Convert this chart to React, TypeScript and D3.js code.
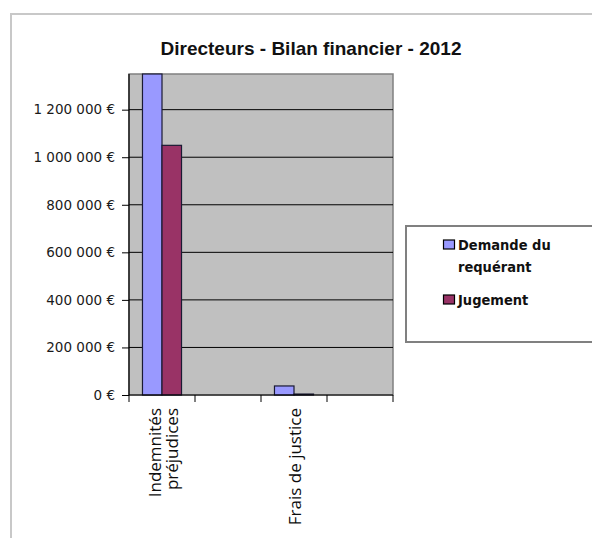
import React, { useEffect, useRef } from "react";
import * as d3 from "d3";

// Chart content
const title = "Directeurs - Bilan financier - 2012";
const categories = ["Indemnités préjudices", "", "Frais de justice", ""];
const categoryLines = [["Indemnités", "préjudices"], [], ["Frais de justice"], []];
const seriesNames = ["Demande du requérant", "Jugement"];
const legendLines = [["Demande du", "requérant"], ["Jugement"]];
const demande = [1500000, null, 38000, null];
const jugement = [1050000, null, 4000, null];
const yTicks = [0, 200000, 400000, 600000, 800000, 1000000, 1200000];
const yMax = 1350000;

const seriesValues = [demande, jugement];
const seriesColors = ["#9999FF", "#993366"];

const W = 592;
const H = 538;
const plot = { left: 129, right: 393, top: 74, bottom: 395 };

const euro = d3.formatLocale({
  decimal: ",",
  thousands: " ",
  grouping: [3],
  currency: ["", " €"],
}).format("$,.0f");

export default function App() {
  const yAxisRef = useRef<SVGGElement>(null);
  const xAxisRef = useRef<SVGGElement>(null);

  const x = d3.scaleBand<number>()
    .domain(d3.range(categories.length))
    .range([plot.left, plot.right])
    .paddingInner(0)
    .paddingOuter(0);
  const xInner = d3.scaleBand<number>()
    .domain(d3.range(seriesNames.length))
    .range([0, x.bandwidth()])
    .paddingInner(0)
    .paddingOuter(0.69);
  const y = d3.scaleLinear().domain([0, yMax]).range([plot.bottom, plot.top]);

  useEffect(() => {
    const ya = d3.select(yAxisRef.current!);
    ya.selectAll("*").remove();
    ya.call(
      d3.axisLeft(y).tickValues(yTicks).tickSize(7).tickPadding(7).tickFormat((d) => euro(d as number))
    );
    ya.select(".domain").remove();
    ya.selectAll(".tick line").attr("stroke", "#000");
    ya.selectAll(".tick text")
      .attr("font-family", "DejaVu Sans, sans-serif")
      .attr("font-size", 13.5)
      .attr("fill", "#1a1a1a");

    const xa = d3.select(xAxisRef.current!);
    xa.selectAll("*").remove();
    const bounds = [...x.domain().map((i) => x(i)!), plot.right];
    xa.selectAll("line.tk")
      .data(bounds)
      .join("line")
      .attr("class", "tk")
      .attr("x1", (d) => d)
      .attr("x2", (d) => d)
      .attr("y1", plot.bottom)
      .attr("y2", plot.bottom + 7)
      .attr("stroke", "#000");
  }, []);

  const bars: React.ReactNode[] = [];
  seriesValues.forEach((vals, s) => {
    vals.forEach((v, i) => {
      if (v == null) return;
      const bx = x(i)! + xInner(s)!;
      const top = Math.max(y(v), plot.top);
      bars.push(
        <rect
          key={`b${s}-${i}`}
          x={bx}
          y={top}
          width={xInner.bandwidth()}
          height={plot.bottom - top}
          fill={seriesColors[s]}
          stroke="#1a1a33"
          strokeWidth={1.2}
        />
      );
    });
  });

  const lineGap = 17;

  return (
    <svg
      width={W}
      height={H}
      style={{ position: "absolute", left: 0, top: 0, background: "#fff" }}
    >
      {/* outer chart frame */}
      <rect x={11} y={14} width={W + 20} height={H + 20} fill="#fff" stroke="#c8c8c8" strokeWidth={2} />

      <text
        x={311}
        y={55}
        textAnchor="middle"
        fontFamily="Liberation Sans, Arial, sans-serif"
        fontWeight="bold"
        fontSize={19}
        fill="#111"
      >
        {title}
      </text>

      {/* plot area */}
      <rect
        x={plot.left}
        y={plot.top}
        width={plot.right - plot.left}
        height={plot.bottom - plot.top}
        fill="#C0C0C0"
        stroke="#808080"
        strokeWidth={1.5}
      />
      {yTicks.filter((t) => t > 0).map((t) => (
        <line key={t} x1={plot.left} x2={plot.right} y1={y(t)} y2={y(t)} stroke="#000" strokeWidth={1} />
      ))}
      {bars}
      <line x1={plot.left} x2={plot.left} y1={plot.top} y2={plot.bottom} stroke="#000" strokeWidth={1.2} />
      <line x1={plot.left} x2={plot.right} y1={plot.bottom} y2={plot.bottom} stroke="#000" strokeWidth={1.2} />
      <g ref={yAxisRef} transform={`translate(${plot.left},0)`} />
      <g ref={xAxisRef} />

      {/* category labels */}
      {categoryLines.map((lines, i) => {
        const cx = x(i)! + x.bandwidth() / 2;
        return lines.map((ln, j) => {
          const bx = cx + 7 + (j - (lines.length - 1) / 2) * lineGap;
          return (
            <text
              key={`c${i}-${j}`}
              transform={`translate(${bx},408) rotate(-90)`}
              textAnchor="end"
              fontFamily="Open Sans, sans-serif"
              fontSize={17}
              fill="#0d0d0d"
            >
              {ln}
            </text>
          );
        });
      })}

      {/* legend */}
      <rect x={406} y={226} width={220} height={116} fill="#fff" stroke="#808080" strokeWidth={2} />
      {legendLines.map((lines, s) => {
        const base = s === 0 ? 250 : 305;
        return (
          <g key={`l${s}`}>
            <rect x={443.5} y={base - 10} width={11} height={9} fill={seriesColors[s]} stroke="#000" strokeWidth={1.2} />
            {lines.map((ln, j) => (
              <text
                key={j}
                x={458}
                y={base + j * 22}
                fontFamily="DejaVu Sans Condensed, DejaVu Sans, sans-serif"
                fontWeight="bold"
                fontSize={14.5}
                fill="#111"
              >
                {ln}
              </text>
            ))}
          </g>
        );
      })}
    </svg>
  );
}
